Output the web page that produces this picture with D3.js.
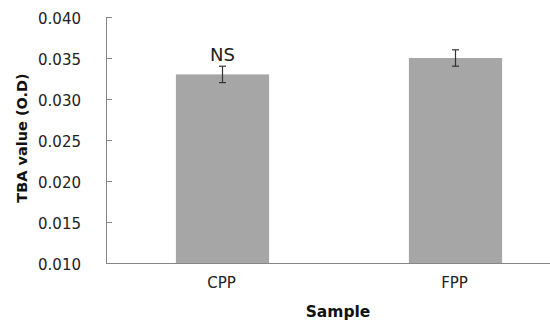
<!DOCTYPE html>
<html>
<head>
<meta charset="utf-8">
<script src="https://cdn.jsdelivr.net/npm/d3@7"></script>
<style>
  body { margin: 0; background: #fff; }
  svg { display: block; }
  .tick text { font-family: "DejaVu Sans", sans-serif; }
</style>
</head>
<body>
<svg id="chart" width="550" height="324"></svg>
<script>
  // values
  let samples = ['CPP', 'FPP'];
  let tbaValues = [0.033, 0.035];
  let tbaErrors = [0.001, 0.001];
  let sigLabels = ['NS', ''];
  let yTicks = [0.010, 0.015, 0.020, 0.025, 0.030, 0.035, 0.040];

  let plotLeft = 106, plotTop = 17, plotBottom = 263;
  let step = 233; // plot runs past the right edge in the original

  var svg = d3.select('#chart');

  let x = d3.scaleBand()
    .domain(samples)
    .range([plotLeft, plotLeft + step * 2])
    .paddingInner(0.6)
    .paddingOuter(0.3);

  let y = d3.scaleLinear()
    .domain([0.010, 0.040])
    .range([plotBottom, plotTop]);

  // bars
  svg.selectAll('.bar')
    .data(samples)
    .enter()
    .append('rect')
    .attr('class', 'bar')
    .attr('x', d => x(d))
    .attr('width', x.bandwidth())
    .attr('y', (d, i) => y(tbaValues[i]))
    .attr('height', (d, i) => y(0.010) - y(tbaValues[i]))
    .style('fill', '#a6a6a6');

  // y axis, ticks pointing into the plot
  let yAxis = svg.append('g')
    .attr('transform', 'translate(' + plotLeft + ',0)')
    .call(d3.axisRight(y).tickValues(yTicks).tickSize(6).tickFormat(d3.format('.3f')));
  yAxis.select('.domain').attr('stroke', '#868686').attr('d', 'M0.5,' + plotTop + 'V' + (plotBottom + 0.5));
  yAxis.selectAll('.tick line').attr('stroke', '#868686');
  yAxis.selectAll('.tick text')
    .attr('x', -25)
    .attr('text-anchor', 'end')
    .attr('dy', '0.4em')
    .style('font-size', '15px')
    .style('fill', '#222');

  // x axis
  svg.append('line')
    .attr('x1', plotLeft)
    .attr('x2', 550)
    .attr('y1', plotBottom + 0.5)
    .attr('y2', plotBottom + 0.5)
    .attr('stroke', '#868686');

  svg.selectAll('.xlabel')
    .data(samples)
    .enter()
    .append('text')
    .attr('class', 'xlabel')
    .attr('x', d => x(d) + x.bandwidth() / 2 - 1)
    .attr('y', 288)
    .attr('text-anchor', 'middle')
    .style('font-family', '"DejaVu Sans", sans-serif')
    .style('font-size', '15px')
    .style('fill', '#222')
    .text(d => d);

  // error bars
  let err = svg.selectAll('.err')
    .data(samples)
    .enter()
    .append('g')
    .attr('class', 'err')
    .attr('stroke', '#333')
    .attr('stroke-width', 1.2);

  err.append('line')
    .attr('x1', d => x(d) + x.bandwidth() / 2)
    .attr('x2', d => x(d) + x.bandwidth() / 2)
    .attr('y1', (d, i) => y(tbaValues[i] + tbaErrors[i]))
    .attr('y2', (d, i) => y(tbaValues[i] - tbaErrors[i]));

  [1, -1].forEach(s => {
    err.append('line')
      .attr('x1', d => x(d) + x.bandwidth() / 2 - 3.5)
      .attr('x2', d => x(d) + x.bandwidth() / 2 + 3.5)
      .attr('y1', (d, i) => y(tbaValues[i] + s * tbaErrors[i]))
      .attr('y2', (d, i) => y(tbaValues[i] + s * tbaErrors[i]));
  });

  // significance label
  svg.selectAll('.sig')
    .data(samples)
    .enter()
    .append('text')
    .attr('class', 'sig')
    .attr('x', d => x(d) + x.bandwidth() / 2)
    .attr('y', (d, i) => y(tbaValues[i] + tbaErrors[i]) - 5)
    .attr('text-anchor', 'middle')
    .style('font-family', '"DejaVu Sans", sans-serif')
    .style('font-size', '18px')
    .style('fill', '#222')
    .text((d, i) => sigLabels[i]);

  // axis titles
  svg.append('text')
    .attr('transform', 'translate(27,138) rotate(-90)')
    .attr('text-anchor', 'middle')
    .style('font-family', '"DejaVu Sans", sans-serif')
    .style('font-weight', 'bold')
    .style('font-size', '14.5px')
    .style('fill', '#111')
    .text('TBA value (O.D)');

  svg.append('text')
    .attr('x', 338)
    .attr('y', 317)
    .attr('text-anchor', 'middle')
    .style('font-family', '"DejaVu Sans", sans-serif')
    .style('font-weight', 'bold')
    .style('font-size', '15.5px')
    .style('fill', '#111')
    .text('Sample');
</script>
</body>
</html>
